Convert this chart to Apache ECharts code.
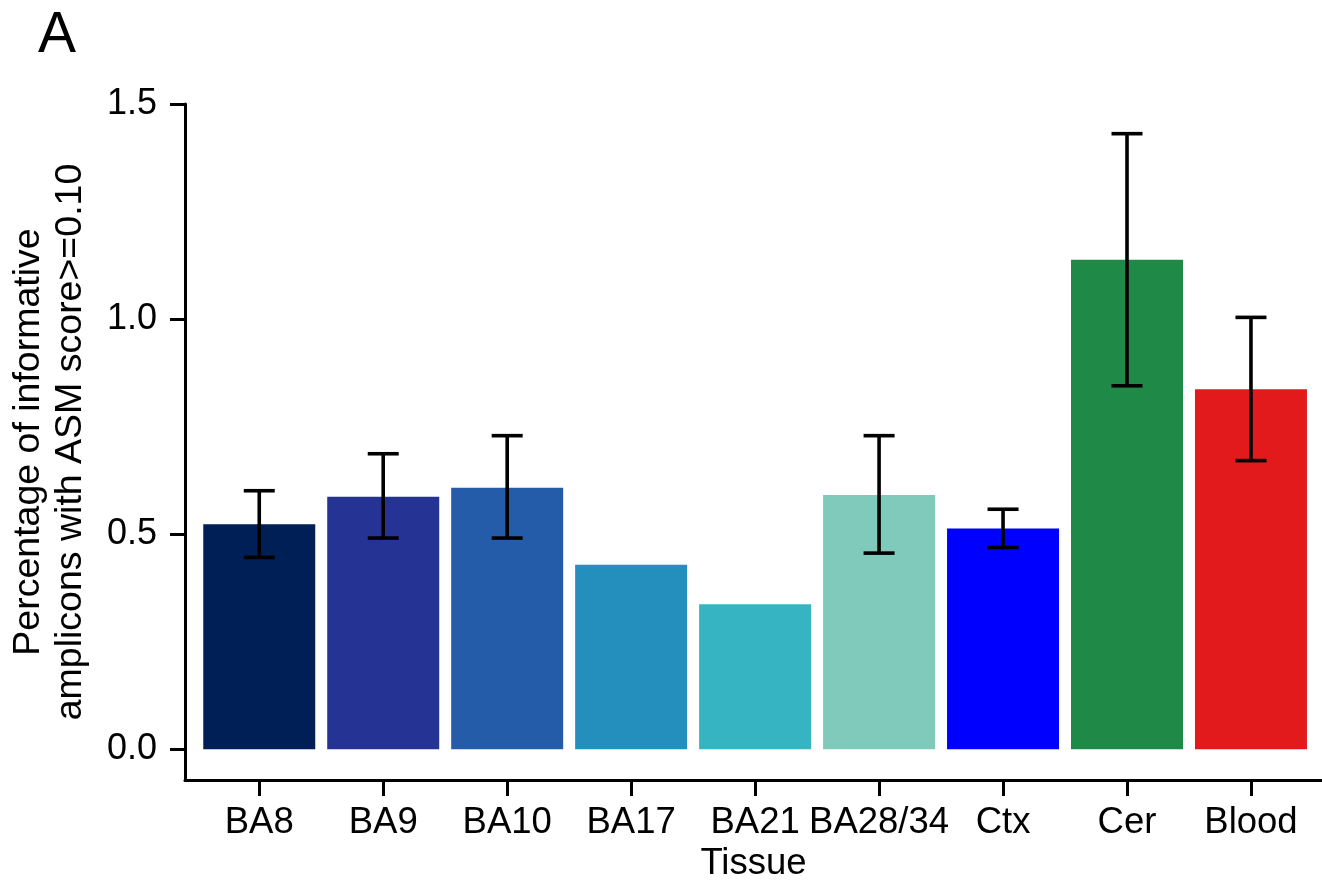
<!DOCTYPE html>
<html>
<head>
<meta charset="utf-8">
<script src="https://cdn.jsdelivr.net/npm/echarts@6/dist/echarts.min.js"></script>
<style>
html,body{margin:0;padding:0;background:#fff;}
#chart{width:1322px;height:881px;}
</style>
</head>
<body>
<div id="chart"></div>
<script>
const categories = ['BA8','BA9','BA10','BA17','BA21','BA28/34','Ctx','Cer','Blood'];
const means = [0.523, 0.587, 0.608, 0.429, 0.337, 0.591, 0.513, 1.138, 0.837];
const upper = [0.601, 0.687, 0.729, null, null, 0.729, 0.558, 1.431, 1.004];
const lower = [0.446, 0.491, 0.491, null, null, 0.456, 0.469, 0.845, 0.671];
const yTicks = [0, 0.5, 1.0, 1.5];

const palette = ['#011f57','#253494','#245ca9','#248ebd','#37b4c1','#7fcaba','#0000ff','#1f8a48','#e31a1c'];
const FONT = '"Liberation Sans", Arial, Helvetica, sans-serif';

const xIdx = categories.map((c, i) => i);

const chart = echarts.init(document.getElementById('chart'), null, {renderer: 'canvas'});
const option = {
  animation: false,
  backgroundColor: '#ffffff',
  textStyle: {fontFamily: FONT, color: '#000'},
  title: {
    text: 'A', left: 33, top: 3,
    textStyle: {fontFamily: FONT, fontSize: 57, fontWeight: 'normal', color: '#000'}
  },
  grid: {left: 185, right: 0, top: 104, bottom: 101, containLabel: false, outerBoundsMode: 'none'},
  xAxis: {
    type: 'value',
    min: -0.599, max: 8.573,
    splitLine: {show: false},
    axisLine: {show: true, onZero: false, lineStyle: {color: '#000', width: 3}},
    axisTick: {show: true, customValues: xIdx, length: 16, lineStyle: {color: '#000', width: 3}},
    axisLabel: {
      customValues: xIdx, margin: 24, color: '#000', fontSize: 36.5, fontFamily: FONT,
      formatter: v => categories[Math.round(v)], hideOverlap: false
    },
    name: 'Tissue', nameLocation: 'middle', nameGap: 62,
    nameTextStyle: {fontSize: 36.5, color: '#000', fontFamily: FONT}
  },
  yAxis: {
    type: 'value',
    min: -0.0714, max: 1.5,
    splitLine: {show: false},
    axisLine: {show: true, onZero: false, lineStyle: {color: '#000', width: 3}},
    axisTick: {show: true, customValues: yTicks, length: 15, lineStyle: {color: '#000', width: 3}},
    axisLabel: {
      customValues: yTicks, margin: 28, color: '#000', fontSize: 36, fontFamily: FONT,
      formatter: v => v.toFixed(1)
    },
    name: 'Percentage of informative\namplicons with ASM score>=0.10',
    nameLocation: 'middle', nameRotate: 90, nameGap: 93,
    nameTextStyle: {fontSize: 37.5, lineHeight: 42, color: '#000', fontFamily: FONT, align: 'center'}
  },
  series: [
    {
      type: 'bar',
      barWidth: 112,
      data: means.map((m, i) => ({value: [i, m], itemStyle: {color: palette[i]}})),
      silent: true
    },
    {
      type: 'custom',
      silent: true,
      z: 10,
      data: categories.map((c, i) => [i, upper[i], lower[i]]).filter(d => d[1] != null),
      renderItem: function (params, api) {
        const x = api.value(0);
        const hi = api.coord([x, api.value(1)]);
        const lo = api.coord([x, api.value(2)]);
        const hw = 15.5;
        const st = {stroke: '#000', lineWidth: 3.6};
        return {
          type: 'group',
          children: [
            {type: 'line', shape: {x1: hi[0], y1: hi[1], x2: lo[0], y2: lo[1]}, style: st},
            {type: 'line', shape: {x1: hi[0] - hw, y1: hi[1], x2: hi[0] + hw, y2: hi[1]}, style: st},
            {type: 'line', shape: {x1: lo[0] - hw, y1: lo[1], x2: lo[0] + hw, y2: lo[1]}, style: st}
          ]
        };
      }
    }
  ]
};
chart.setOption(option);
</script>
</body>
</html>
